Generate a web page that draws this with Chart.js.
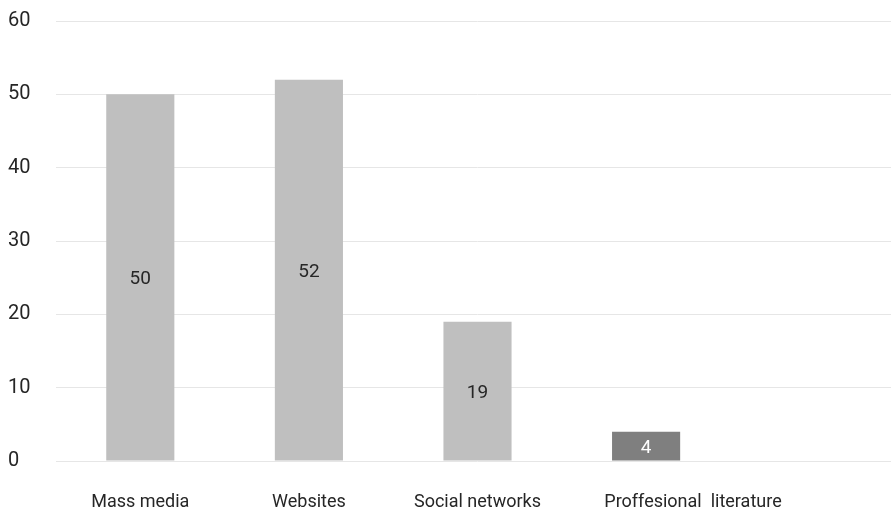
<!DOCTYPE html>
<html>
<head>
<meta charset="utf-8">
<script src="https://cdn.jsdelivr.net/npm/chart.js@4/dist/chart.umd.min.js"></script>
<style>
  html, body { margin: 0; padding: 0; background: #fff; overflow: hidden; }
  #wrap { width: 899px; height: 513px; }
</style>
</head>
<body>
<div id="wrap"><canvas id="sources-chart"></canvas></div>
<script>
// categories (last one is an empty slot, as in the original layout)
const categories = ['Mass media', 'Websites', 'Social networks', 'Proffesional  literature', ''];
const counts = [50, 52, 19, 4, null];
const barColors = ['#bfbfbf', '#bfbfbf', '#bfbfbf', '#7f7f7f', '#bfbfbf'];
const labelColors = ['#262626', '#262626', '#262626', '#ffffff', '#262626'];
const yTicks = [0, 10, 20, 30, 40, 50, 60];

const fontFamily = 'Roboto, "Noto Sans", sans-serif';

const valueLabels = {
    id: 'valueLabels',
    afterDatasetsDraw(chart) {
        const ctx = chart.ctx;
        const meta = chart.getDatasetMeta(0);
        ctx.save();
        ctx.font = '19px ' + fontFamily;
        ctx.textAlign = 'center';
        ctx.textBaseline = 'middle';
        meta.data.forEach((bar, i) => {
            if (counts[i] === null) return;
            const c = bar.getCenterPoint();
            ctx.fillStyle = labelColors[i];
            ctx.fillText(String(counts[i]), c.x, c.y + 2);
        });
        ctx.restore();
    }
};

const ctx = document.getElementById('sources-chart').getContext('2d');
const sourcesChart = new Chart(ctx, {
    type: 'bar',
    data: {
        labels: categories,
        datasets: [{
            data: counts,
            backgroundColor: barColors,
            barPercentage: 0.404,
            categoryPercentage: 1
        }]
    },
    options: {
        responsive: true,
        maintainAspectRatio: false,
        animation: false,
        layout: { padding: { top: 21, left: 8, right: 0, bottom: 0 } },
        plugins: {
            legend: { display: false },
            tooltip: { enabled: false }
        },
        scales: {
            x: {
                grid: { display: false },
                border: { display: false },
                ticks: {
                    color: '#262626',
                    padding: 23,
                    maxRotation: 0,
                    autoSkip: false,
                    font: { family: fontFamily, size: 18 },
                    // the long last label sits right of its bar in the original
                    callback: (val, i) => i === 3 ? ' '.repeat(21) + categories[i] : categories[i]
                },
                afterFit(scale) { scale.height = 52; }
            },
            y: {
                min: 0,
                max: 60,
                afterBuildTicks(scale) { scale.ticks = yTicks.map(v => ({ value: v })); },
                grid: { color: '#e6e6e6', lineWidth: 1, drawTicks: false },
                border: { display: false },
                ticks: {
                    color: '#262626',
                    crossAlign: 'far',
                    padding: 0,
                    font: { family: fontFamily, size: 20 }
                },
                afterFit(scale) { scale.width = 48; }
            }
        }
    },
    plugins: [valueLabels]
});
</script>
</body>
</html>
